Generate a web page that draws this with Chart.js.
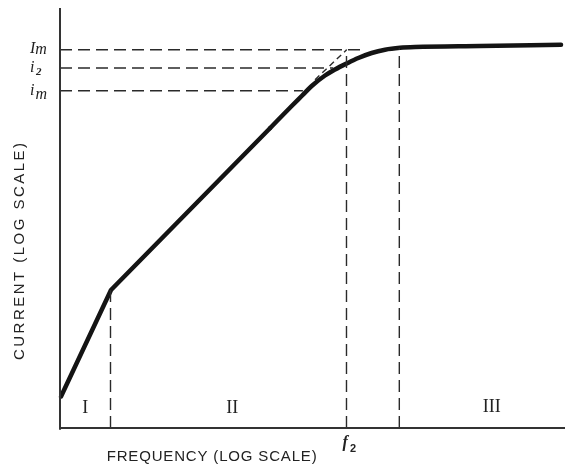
<!DOCTYPE html>
<html><head><meta charset="utf-8">
<script src="https://cdn.jsdelivr.net/npm/chart.js@4/dist/chart.umd.min.js"></script>
<style>html,body{margin:0;padding:0;background:#fff;}canvas{display:block;}</style>
</head><body>
<canvas id="c" width="565" height="466"></canvas>
<script>
// ---- data (relative log units, 0..100 on both axes) ----
const straightFreq = [0.2, 10.1, 41.58];
const straightCurrent = [7.5, 32.86, 71.38];
const bendFreq = [41.58, 45.88, 47.86, 49.84, 52.48, 54.46, 56.77, 59.07, 61.72, 64.36, 67.33, 70.30, 83.17, 99.21];
const bendCurrent = [71.38, 76.67, 79.05, 81.43, 83.93, 85.36, 86.79, 88.10, 89.29, 90.07, 90.52, 90.71, 90.95, 91.24];
const levelLabels = [['I', 'm'], ['i', '2'], ['i', 'm']];
const levelCurrent = [90.07, 85.71, 80.31];
const levelEndFreq = [60.4, 54.1, 48.1];
const boundaryFreq = [10.0, 56.73, 67.19];
const boundaryTopCurrent = [32.86, 90.07, 90.48];
const asymptoteFreq = [50.5, 56.77];
const asymptoteCurrent = [82.93, 90.07];
const regionLabels = ['I', 'II', 'III'];
const regionFreq = [5.0, 34.1, 85.5];
const regionCurrent = [4.8, 4.8, 5.0];
const xTitle = 'FREQUENCY (LOG SCALE)';
const yTitle = 'CURRENT (LOG SCALE)';
const f2Label = ['f', '2'];
const f2Freq = boundaryFreq[1];

const pts = (xs, ys) => xs.map((x, i) => ({x, y: ys[i]}));
const dashStyle = {borderColor: '#2a2a2a', borderWidth: 1.4, borderDash: [12, 6], pointRadius: 0, fill: false, tension: 0, clip: false};
const datasets = [];
// axes
datasets.push({data: [{x: 0, y: -0.4}, {x: 0, y: 100}], borderColor: '#333', borderWidth: 2, pointRadius: 0, clip: false});
datasets.push({data: [{x: 0, y: 0}, {x: 100, y: 0}], borderColor: '#333', borderWidth: 2, pointRadius: 0, clip: false});
// level lines
levelCurrent.forEach((c, i) => datasets.push(Object.assign({data: [{x: 0, y: c}, {x: levelEndFreq[i], y: c}]}, dashStyle)));
// boundary lines
boundaryFreq.forEach((f, i) => datasets.push(Object.assign({data: [{x: f, y: 0}, {x: f, y: boundaryTopCurrent[i]}]}, dashStyle)));
// asymptote
datasets.push(Object.assign({data: pts(asymptoteFreq, asymptoteCurrent)}, dashStyle, {borderDash: [6, 4]}));
// curve
datasets.push({data: pts(straightFreq, straightCurrent), borderColor: '#141414', borderWidth: 4.5, pointRadius: 0, tension: 0, borderCapStyle: 'round', borderJoinStyle: 'round', clip: false});
datasets.push({data: pts(bendFreq, bendCurrent), borderColor: '#141414', borderWidth: 4.5, pointRadius: 0, cubicInterpolationMode: 'monotone', borderCapStyle: 'round', borderJoinStyle: 'round', clip: false});

function spacedText(ctx, text, cx, cy, width) {
  const chars = [...text];
  const widths = chars.map(ch => ctx.measureText(ch).width);
  const total = widths.reduce((a, b) => a + b, 0);
  const gap = (width - total) / (chars.length - 1);
  let x = cx - width / 2;
  chars.forEach((ch, i) => { ctx.fillText(ch, x, cy); x += widths[i] + gap; });
}

const textPlugin = {
  id: 'texts',
  afterDatasetsDraw(chart) {
    const {ctx, scales: {x, y}} = chart;
    ctx.save();
    ctx.fillStyle = '#222';
    // axis titles
    ctx.font = '15px "Liberation Sans", Arial, sans-serif';
    ctx.textAlign = 'left';
    ctx.textBaseline = 'middle';
    spacedText(ctx, xTitle, 211.7, 456.5, 210);
    ctx.save();
    ctx.translate(19.5, 251.5);
    ctx.rotate(-Math.PI / 2);
    spacedText(ctx, yTitle, 0, 0, 217);
    ctx.restore();
    // region numerals
    ctx.font = '18px "Liberation Serif", "Times New Roman", serif';
    ctx.textAlign = 'center';
    ctx.textBaseline = 'middle';
    regionLabels.forEach((t, i) => ctx.fillText(t, x.getPixelForValue(regionFreq[i]), y.getPixelForValue(regionCurrent[i])));
    // level labels
    ctx.textAlign = 'left';
    ctx.textBaseline = 'alphabetic';
    levelLabels.forEach((lab, i) => {
      const py = y.getPixelForValue(levelCurrent[i]);
      ctx.font = 'italic 16px "Liberation Serif", "Times New Roman", serif';
      ctx.fillText(lab[0], 30, py + (lab[0] === 'I' ? 3.5 : 4));
      const w = ctx.measureText(lab[0]).width;
      if (lab[1] === 'm') {
        ctx.font = 'italic 16px "Liberation Serif", "Times New Roman", serif';
        ctx.fillText(lab[1], 30 + w + (lab[0] === 'I' ? 0 : 1), py + (lab[0] === 'I' ? 4.5 : 8));
      } else {
        ctx.font = 'italic bold 11px "Liberation Serif", "Times New Roman", serif';
        ctx.fillText(lab[1], 30 + w + 1.5, py + 7);
      }
    });
    // f2
    const fx = x.getPixelForValue(f2Freq);
    ctx.font = 'italic bold 16px "Liberation Serif", "Times New Roman", serif';
    ctx.fillText(f2Label[0], fx - 4, 447);
    ctx.font = 'bold 11px "Liberation Sans", Arial, sans-serif';
    ctx.fillText(f2Label[1], fx + 3.5, 452);
    ctx.restore();
  }
};

new Chart(document.getElementById('c'), {
  type: 'scatter',
  data: {datasets: datasets.map(d => Object.assign({showLine: true}, d))},
  options: {
    responsive: false,
    animation: false,
    layout: {padding: {left: 60, right: 0, top: 8, bottom: 38}},
    plugins: {legend: {display: false}, tooltip: {enabled: false}},
    scales: {
      x: {type: 'linear', min: 0, max: 100, display: false},
      y: {type: 'linear', min: 0, max: 100, display: false}
    }
  },
  plugins: [textPlugin]
});
</script>
</body></html>
